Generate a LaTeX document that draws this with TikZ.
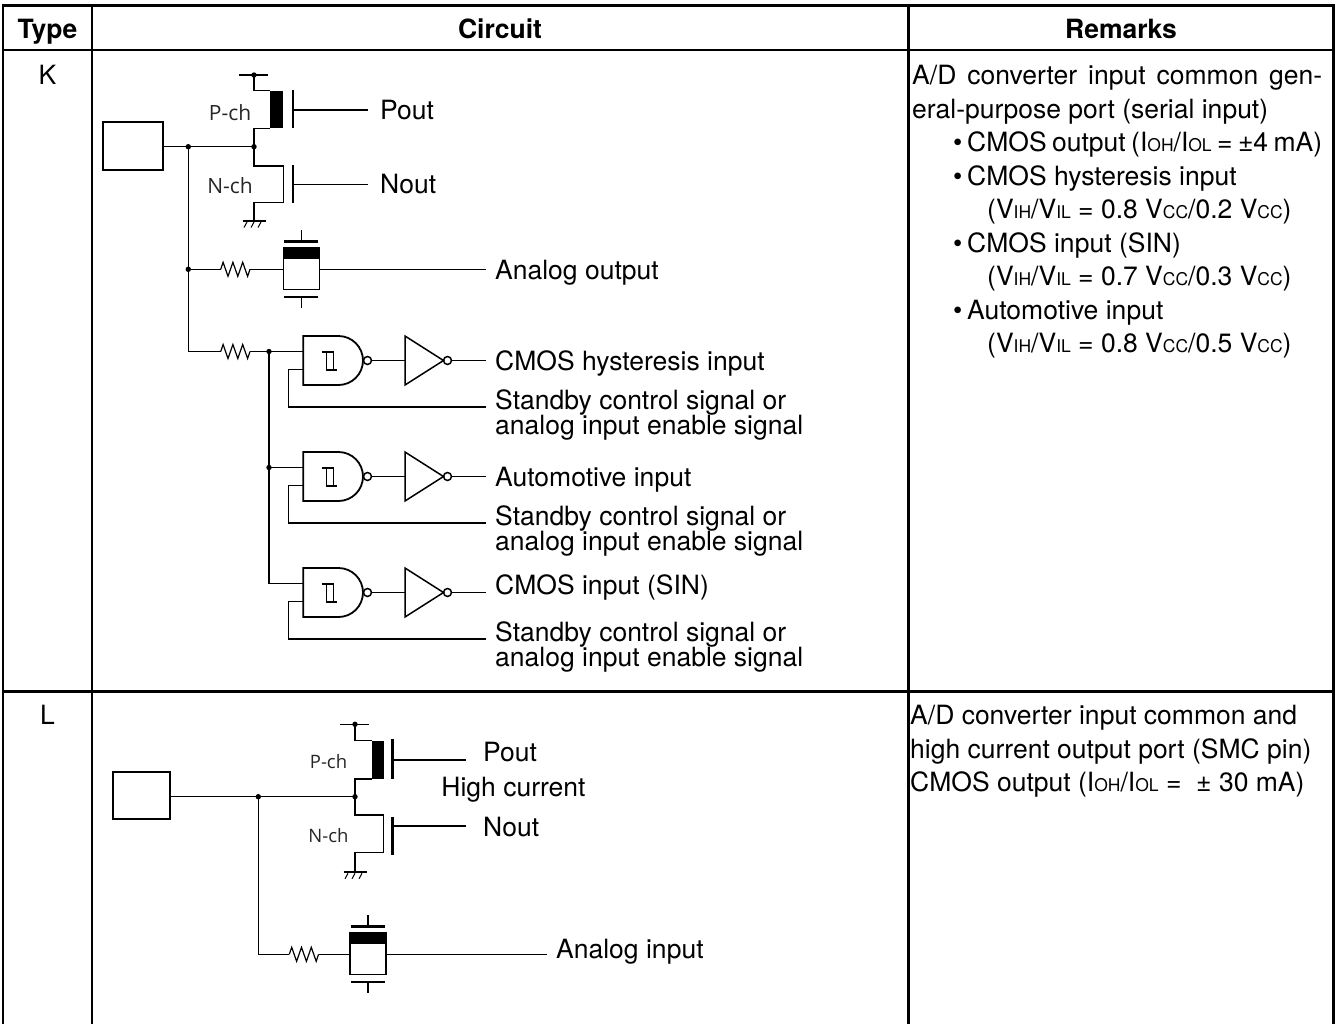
\documentclass[tikz,border=0pt]{standalone}
\usepackage{fontspec}
\setmainfont{TeX Gyre Heros}
\newfontfamily\chfont{Open Sans}
\newcommand{\sbs}[1]{{\fontsize{17.5}{17.5}\selectfont #1}}
\newcommand{\Res}[2]{\draw[wire] ({#1},{#2}) -- ++(2.4,-7) -- ++(4.9,14) -- ++(4.9,-14) -- ++(4.9,14) -- ++(4.9,-14) -- ++(4.9,14) -- ++(2.4,-7);}
\newcommand{\Sw}[2]{%
  \fill ({#1},{#2-21.5}) rectangle ({#1+36},{#2-10.5});
  \draw[line width=1.3pt] ({#1},{#2-21.5}) rectangle ({#1+36},{#2+20.5});
  \draw[plate] ({#1+1},{#2-28}) -- ({#1+35},{#2-28});
  \draw[wire] ({#1+18},{#2-28}) -- ({#1+18},{#2-39.5});
  \draw[plate] ({#1+1},{#2+27.5}) -- ({#1+35},{#2+27.5});
  \draw[wire] ({#1+18},{#2+27.5}) -- ({#1+18},{#2+38.5});}
\newcommand{\Gnd}[2]{%
  \draw[line width=2pt] ({#1-11.5},{#2}) -- ({#1+11.5},{#2});
  \foreach \dx in {-7,0,7} \draw[line width=1pt] ({#1+\dx},{#2+1}) -- ({#1+\dx-3},{#2+6.5});}
\newcommand{\NandGroup}[2]{%
\begin{scope}[shift={(0,#1)}]
  \coordinate (#2i1) at (303.3,15.5);
  \coordinate (#2i2) at (303.3,33.5);
  \draw[gateln] (303.3,0) -- (338.5,0) .. controls (352,0) and (363,11) .. (363,24.5) .. controls (363,38) and (352,49) .. (338.5,49) -- (303.3,49) -- cycle;
  \draw[wire] (321.7,16) -- (333.3,16) -- (333.3,34) -- (336.7,34);
  \draw[wire] (326.7,16) -- (326.7,34) -- (333.3,34);
  \draw[bub] (367.5,24.5) circle[radius=4];
  \draw[wire] (371.5,24.5) -- (405,24.5);
  \draw[invln] (405,0) -- (443.5,24.5) -- (405,49) -- cycle;
  \draw[bub] (447.5,24.5) circle[radius=4];
  \draw[wire] (451.5,24.5) -- (486,24.5);
  \draw[wire] (#2i2) -- (288.3,33.5) -- (288.3,71) -- (486,71);
\end{scope}}
\begin{document}
\begin{tikzpicture}[x=1pt,y=-1pt,
  wire/.style={line width=1.2pt, line join=miter},
  tbl/.style={line width=2.6pt, line join=miter},
  tblv/.style={line width=2.3pt},
  gateln/.style={line width=1.8pt, line join=miter},
  invln/.style={line width=1.5pt, line join=miter},
  bub/.style={line width=1.5pt},
  plate/.style={line width=2.5pt},
  pad/.style={line width=2pt},
  txt/.style={anchor=base west, inner sep=0pt, font=\fontsize{26.5}{25}\selectfont},
  txtc/.style={anchor=base, inner sep=0pt, font=\fontsize{26.5}{25}\selectfont},
  hdr/.style={anchor=base, inner sep=0pt, font=\fontsize{26.5}{25}\selectfont\bfseries},
  chl/.style={inner sep=0pt, text=black!85, font=\chfont\fontsize{21}{21}\selectfont},
  chls/.style={inner sep=0pt, text=black!85, font=\chfont\fontsize{18.5}{18.5}\selectfont}]
\useasboundingbox (0,0) rectangle (1340,1023);

% ---------- table ----------
\coordinate (tbl1) at (3,1030);
\coordinate (tbl2) at (3,5.3);
\coordinate (tbl3) at (1333.5,5.3);
\coordinate (tbl4) at (1333.5,1030);
\draw[tbl] (tbl1) -- (tbl2) -- (tbl3) -- (tbl4);
\draw[tbl] (3,50) -- (1333.5,50);
\draw[tbl] (3,691.7) -- (1333.5,691.7);
\draw[tblv] (92,5.3) -- (92,1030);
\draw[tblv] (908.5,5.3) -- (908.5,1030);

\node[hdr] (hType) at (47.5,38) {Type};
\node[hdr] (hCirc) at (500,38) {Circuit};
\node[hdr] (hRem) at (1121,38) {Remarks};
\node[txtc] (tK) at (47.5,84.5) {K};
\node[txtc] (tL) at (47.5,724.5) {L};

% ---------- K circuit ----------
\draw[pad] (103.3,121.7) rectangle (162.7,170);
\coordinate (padK) at (162.7,146.7);
\coordinate (jK1) at (188.3,146.7);
\coordinate (jK2) at (254,146.7);
\coordinate (vddK) at (254,75);
\draw[wire] (padK) -- (jK2);
% P-ch
\fill (270,90.7) rectangle (283.3,128.3);
\draw[wire] (jK2) -- (254,128.3) -- (270,128.3);
\draw[wire] (270,90.7) -- (254,90.7) -- (vddK);
\draw[wire] (239.3,75) -- (268.3,75);
\draw[plate] (292.8,90) -- (292.8,128.3);
\draw[wire] (292.8,110) -- (368.3,110);
% N-ch
\draw[wire] (jK2) -- (254,166) -- (283.3,166) -- (283.3,202.3) -- (254,202.3) -- (254,221);
\draw[plate] (292.8,165) -- (292.8,203.3);
\draw[wire] (292.8,184.3) -- (368.3,184.3);
\Gnd{254}{221}
\node[chl] (pchK) at (230,113) {P-ch};
\node[chl] (nchK) at (230,186) {N-ch};
\node[txt] (tPoutK) at (380,119) {Pout};
\node[txt] (tNoutK) at (380,193.5) {Nout};
% analog output
\coordinate (jK3) at (188.3,269.3);
\coordinate (jK4) at (269,351.5);
\coordinate (jK5) at (269,467.5);
\draw[wire] (jK1) -- (188.3,351.5) -- (220.7,351.5);
\draw[wire] (jK3) -- (220.7,269.3);
\Res{220.7}{269.3}
\draw[wire] (250,269.3) -- (283.3,269.3);
\Sw{283.3}{269.3}
\draw[wire] (319.3,269.3) -- (486,269.3);
\node[txt] (tAout) at (495,279) {Analog output};
% input gates
\Res{220.7}{351.5}
\NandGroup{336}{gA}
\NandGroup{452}{gB}
\NandGroup{568}{gC}
\draw[wire] (250,351.5) -- (gAi1);
\draw[wire] (jK4) -- (269,583.5) -- (gCi1);
\draw[wire] (jK5) -- (gBi1);
\node[txt] (tA1) at (495,370.5) {CMOS hysteresis input};
\node[txt] (tA2) at (495,409.5) {Standby control signal or};
\node[txt] (tA3) at (495,434.5) {analog input enable signal};
\node[txt] (tB1) at (495,486.5) {Automotive input};
\node[txt] (tB2) at (495,525.5) {Standby control signal or};
\node[txt] (tB3) at (495,550.5) {analog input enable signal};
\node[txt] (tC1) at (495,594.5) {CMOS input (SIN)};
\node[txt] (tC2) at (495,641.5) {Standby control signal or};
\node[txt] (tC3) at (495,666.5) {analog input enable signal};

% ---------- L circuit ----------
\draw[pad] (112.7,771.7) rectangle (170,819.3);
\coordinate (padL) at (170,796.7);
\coordinate (jL1) at (258.3,796.7);
\coordinate (jL2) at (355,796.7);
\coordinate (vddL) at (355,724.3);
\draw[wire] (padL) -- (jL2);
\fill (371.7,740.7) rectangle (384,779);
\draw[wire] (jL2) -- (355,779) -- (371.7,779);
\draw[wire] (371.7,740.7) -- (355,740.7) -- (vddL);
\draw[wire] (340,724.3) -- (369.3,724.3);
\draw[plate] (392.7,739.3) -- (392.7,779);
\draw[wire] (392.7,760) -- (466,760);
\draw[wire] (jL2) -- (355,815) -- (383.3,815) -- (383.3,852.7) -- (355,852.7) -- (355,872.3);
\draw[plate] (392.7,816.7) -- (392.7,855);
\draw[wire] (392.7,826) -- (466,826);
\Gnd{355}{872.3}
\node[chls] (pchL) at (328.5,762) {P-ch};
\node[chls] (nchL) at (328.5,836) {N-ch};
\node[txt] (tPoutL) at (483,761.5) {Pout};
\node[txtc] (tHC) at (513.5,796.5) {High current};
\node[txt] (tNoutL) at (483,836.5) {Nout};
\draw[wire] (jL1) -- (258.3,954.3) -- (289.3,954.3);
\Res{289.3}{954.3}
\draw[wire] (318.6,954.3) -- (350,954.3);
\Sw{350}{954.3}
\draw[wire] (386,954.3) -- (546.7,954.3);
\node[txt] (tAin) at (556,958) {Analog input};

% junction dots
\foreach \c in {jK1,jK2,vddK,jK3,jK4,jK5,jL1,jL2,vddL} \fill (\c) circle[radius=2.7];

% ---------- remarks ----------
\node[txt] (rK1) at (912,84.5) {\makebox[410pt][s]{A/D converter input common gen-}};
\node[txt] (rK2) at (912,118) {eral-purpose port (serial input)};
\node[txt] (bK3) at (953,151.5) {•};
\node[txt] (rK3) at (967,151.5) {\makebox[355pt][s]{CMOS output (I\sbs{OH}/I\sbs{OL} = ±4 mA)}};
\node[txt] (bK4) at (953,185) {•};
\node[txt] (rK4) at (967,185) {CMOS hysteresis input};
\node[txt] (rK5) at (987,218.5) {(V\sbs{IH}/V\sbs{IL} = 0.8 V\sbs{CC}/0.2 V\sbs{CC})};
\node[txt] (bK6) at (953,252) {•};
\node[txt] (rK6) at (967,252) {CMOS input (SIN)};
\node[txt] (rK7) at (987,285.5) {(V\sbs{IH}/V\sbs{IL} = 0.7 V\sbs{CC}/0.3 V\sbs{CC})};
\node[txt] (bK8) at (953,319) {•};
\node[txt] (rK8) at (967,319) {Automotive input};
\node[txt] (rK9) at (987,352.5) {(V\sbs{IH}/V\sbs{IL} = 0.8 V\sbs{CC}/0.5 V\sbs{CC})};

\node[txt] (rL1) at (910,724.5) {A/D converter input common and};
\node[txt] (rL2) at (910,758) {high current output port (SMC pin)};
\node[txt] (rL3) at (910,791.5) {CMOS output (I\sbs{OH}/I\sbs{OL} =\ \ ± 30 mA)};
\end{tikzpicture}
\end{document}
